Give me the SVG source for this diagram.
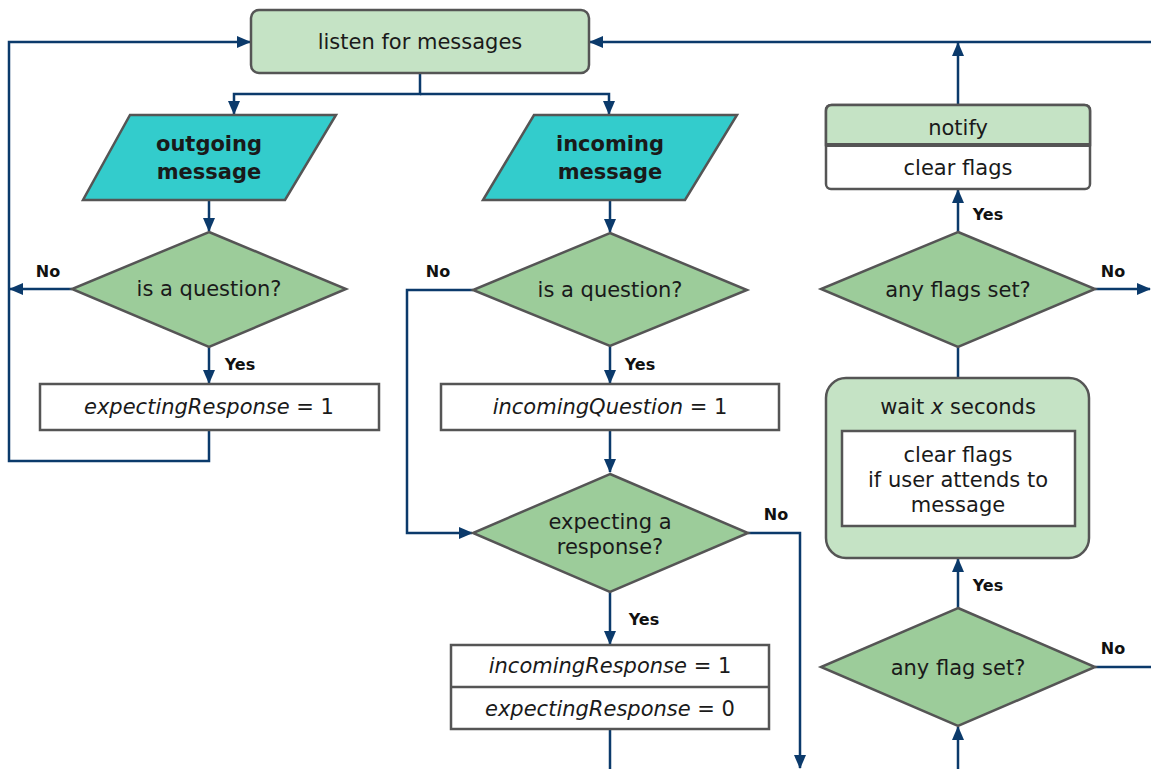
<svg xmlns="http://www.w3.org/2000/svg" width="1151" height="769" viewBox="0 0 1151 769">
<style>
.t{font-family:"DejaVu Sans",Verdana,sans-serif;font-size:21px;fill:#1a1a1a;text-anchor:middle}
.b{font-weight:bold}
.i{font-style:italic}
.lbl{font-family:"DejaVu Sans",Verdana,sans-serif;font-size:16px;font-weight:bold;fill:#111}
.c{fill:none;stroke:#0b3a6b;stroke-width:2.5}
.dia{fill:#9ccc9a;stroke:#555;stroke-width:2.5}
.lg{fill:#c5e3c5;stroke:#555;stroke-width:2.5}
.par{fill:#33cccc;stroke:#555;stroke-width:2.5}
.box{fill:#fff;stroke:#555;stroke-width:2.5}
</style>
<defs>
<marker id="a" markerUnits="userSpaceOnUse" markerWidth="14" markerHeight="14" viewBox="0 0 14 12" refX="13" refY="6" orient="auto">
<path d="M0,0 L14,6 L0,12 z" fill="#0b3a6b"/>
</marker>
</defs>
<g id="connectors">
<path class="c" d="M420,73 V94 H234 V114" marker-end="url(#a)"/>
<path class="c" d="M420,94 H609 V114" marker-end="url(#a)"/>
<path class="c" d="M209,200 V231" marker-end="url(#a)"/>
<path class="c" d="M72,289 H10" marker-end="url(#a)"/>
<path class="c" d="M209,347 V383" marker-end="url(#a)"/>
<path class="c" d="M209,430 V461 H9 V42 H250" marker-end="url(#a)"/>
<path class="c" d="M610,200 V232" marker-end="url(#a)"/>
<path class="c" d="M473,290 H407 V533 H472" marker-end="url(#a)"/>
<path class="c" d="M610,346 V383" marker-end="url(#a)"/>
<path class="c" d="M610,430 V472" marker-end="url(#a)"/>
<path class="c" d="M748,533 H800 V768" marker-end="url(#a)"/>
<path class="c" d="M610,592 V644" marker-end="url(#a)"/>
<path class="c" d="M610,729 V769"/>
<path class="c" d="M1151,42 H590" marker-end="url(#a)"/>
<path class="c" d="M958,105 V43" marker-end="url(#a)"/>
<path class="c" d="M958,232 V190" marker-end="url(#a)"/>
<path class="c" d="M1095,289 H1150" marker-end="url(#a)"/>
<path class="c" d="M958,347 V378"/>
<path class="c" d="M958,608 V559" marker-end="url(#a)"/>
<path class="c" d="M1095,667 H1151"/>
<path class="c" d="M958,769 V727" marker-end="url(#a)"/>
<text class="lbl" x="48" y="277" text-anchor="middle">No</text>
<text class="lbl" x="240" y="370" text-anchor="middle">Yes</text>
<text class="lbl" x="438" y="277" text-anchor="middle">No</text>
<text class="lbl" x="640" y="370" text-anchor="middle">Yes</text>
<text class="lbl" x="776" y="520" text-anchor="middle">No</text>
<text class="lbl" x="644" y="625" text-anchor="middle">Yes</text>
<text class="lbl" x="988" y="220" text-anchor="middle">Yes</text>
<text class="lbl" x="1113" y="277" text-anchor="middle">No</text>
<text class="lbl" x="988" y="591" text-anchor="middle">Yes</text>
<text class="lbl" x="1113" y="654" text-anchor="middle">No</text>
</g>
<g id="listen">
<rect class="lg" x="251" y="10" width="338" height="63" rx="8"/>
<text class="t" x="420" y="49">listen for messages</text>
</g>
<g id="outgoing">
<polygon class="par" points="130,115 336,115 285,200 83,200"/>
<text class="t b" x="209" y="151">outgoing</text>
<text class="t b" x="209" y="179">message</text>
</g>
<g id="incoming">
<polygon class="par" points="534,115 737,115 685,200 483,200"/>
<text class="t b" x="610" y="151">incoming</text>
<text class="t b" x="610" y="179">message</text>
</g>
<g id="q1">
<polygon class="dia" points="209,232 346,289 209,347 72,289"/>
<text class="t" x="209" y="296">is a question?</text>
</g>
<g id="setExpecting">
<rect class="box" x="40" y="384" width="339" height="46"/>
<text class="t" x="209" y="414"><tspan class="i">expectingResponse</tspan> = 1</text>
</g>
<g id="q2">
<polygon class="dia" points="610,233 747,290 610,346 473,290"/>
<text class="t" x="610" y="297">is a question?</text>
</g>
<g id="setIncomingQ">
<rect class="box" x="441" y="384" width="338" height="46"/>
<text class="t" x="610" y="414"><tspan class="i">incomingQuestion</tspan> = 1</text>
</g>
<g id="expecting">
<polygon class="dia" points="610,474 748,533 610,592 473,533"/>
<text class="t" x="610" y="529">expecting a</text>
<text class="t" x="610" y="554">response?</text>
</g>
<g id="setResponse">
<rect class="box" x="451" y="645" width="318" height="84"/>
<line x1="451" y1="687" x2="769" y2="687" stroke="#555" stroke-width="2.5"/>
<text class="t" x="610" y="673"><tspan class="i">incomingResponse</tspan> = 1</text>
<text class="t" x="610" y="716"><tspan class="i">expectingResponse</tspan> = 0</text>
</g>
<g id="notify">
<rect class="box" x="826" y="105" width="264" height="84" rx="5"/>
<path d="M826,145 V111 Q826,105 832,105 H1084 Q1090,105 1090,111 V145 Z" fill="#c5e3c5" stroke="#555" stroke-width="2.5"/>
<line x1="826" y1="145" x2="1090" y2="145" stroke="#555" stroke-width="4"/>
<text class="t" x="958" y="135">notify</text>
<text class="t" x="958" y="175">clear flags</text>
</g>
<g id="anyFlags">
<polygon class="dia" points="958,232 1095,289 958,347 821,289"/>
<text class="t" x="958" y="297">any flags set?</text>
</g>
<g id="wait">
<rect class="lg" x="826" y="378" width="263" height="180" rx="20"/>
<text class="t" x="958" y="414">wait <tspan class="i">x</tspan> seconds</text>
<rect class="box" x="842" y="431" width="233" height="95"/>
<text class="t" x="958" y="462">clear flags</text>
<text class="t" x="958" y="487">if user attends to</text>
<text class="t" x="958" y="512">message</text>
</g>
<g id="anyFlag">
<polygon class="dia" points="958,608 1095,667 958,726 821,667"/>
<text class="t" x="958" y="675">any flag set?</text>
</g>
</svg>
